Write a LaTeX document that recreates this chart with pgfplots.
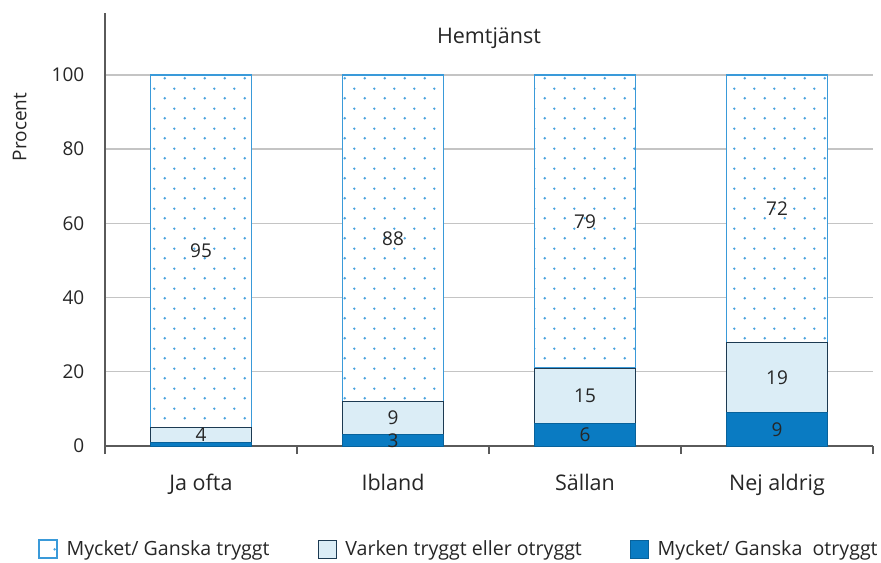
\documentclass[border=0pt]{standalone}
\usepackage{pgfplots}
\pgfplotsset{compat=1.18}
\usepackage{fontspec}
\setmainfont{Open Sans}
\usetikzlibrary{patterns.meta}
\definecolor{darkblue}{HTML}{0A7BC2}
\definecolor{lightfill}{HTML}{DBEDF6}
\definecolor{navy}{HTML}{1C3A52}
\definecolor{dotblue}{HTML}{4AA3DE}
\definecolor{edgeblue}{HTML}{3A9AD9}
\definecolor{gridgray}{HTML}{C4C4C4}
\definecolor{axisgray}{HTML}{5A5A5A}
\definecolor{txt}{HTML}{262626}
\pgfdeclarepattern{
  name=sparsedots,
  type=uncolored,
  bottom left={\pgfpoint{0bp}{0bp}},
  top right={\pgfpoint{20bp}{20bp}},
  tile size={\pgfpoint{20bp}{20bp}},
  code={
    \pgfpathcircle{\pgfpoint{5bp}{5bp}}{1.4bp}
    \pgfpathcircle{\pgfpoint{15bp}{15bp}}{1.4bp}
    \pgfusepath{fill}
  }
}
\pgfplotstableread{
x low mid high
0 1 4 95
1 3 9 88
2 6 15 79
3 9 19 72
}\datatable
\pgfplotstableread{
x y label
0 52.5 95
0 3 4
1 56 88
1 7.5 9
1 1.5 3
2 60.5 79
2 13.5 15
2 3 6
3 64 72
3 18.5 19
3 4.5 9
}\labeltable
\newcommand{\fs}{\fontsize{19bp}{22bp}\selectfont}
\newcommand{\fl}{\fontsize{19.6bp}{23bp}\selectfont}
\newcommand{\fx}{\fontsize{21.5bp}{25bp}\selectfont}
\pgfplotsset{
  base/.style={
    scale only axis,
    width=768bp, height=433bp,
    xmin=-0.5, xmax=3.5,
    ymin=0, ymax=116.7,
  }
}
\begin{document}
\begin{tikzpicture}
\fs
\begin{axis}[
  base,
  ybar stacked,
  bar width=101bp,
  axis x line=bottom,
  axis y line=left,
  axis line style={-, axisgray, line width=1.4bp},
  xtick={0,1,2,3},
  xticklabels={Ja ofta, Ibland, Sällan, Nej aldrig},
  major x tick style={draw=none},
  minor xtick={-0.5,0.5,1.5,2.5,3.5},
  minor x tick style={axisgray, line width=1.4bp},
  minor tick length=8bp,
  xtick align=outside,
  ytick={0,20,...,100},
  major y tick style={draw=none},
  ymajorgrids,
  grid style={gridgray, line width=1.4bp},
  yticklabel style={font=\fs, text=txt, xshift=-12bp},
  xticklabel style={font=\fx, text=txt, anchor=base, yshift=-40bp},
  ylabel={Procent},
  ylabel style={font=\fs, text=txt, at={(axis description cs:-0.111,0.737)}, anchor=center, rotate=0},
  /pgf/number format/assume math mode=true,
  legend style={
    at={(axis description cs:0.461,-0.238)}, anchor=center,
    draw=none, fill=none,
    font=\fl, text=txt,
    /tikz/every odd column/.append style={column sep=7bp},
    /tikz/every even column/.append style={column sep=46bp},
  },
  legend columns=3,
  reverse legend,
  legend image code/.code={\draw[#1] (0bp,-9bp) rectangle (18bp,9bp);},
]
\addplot[fill=darkblue, draw=darkblue!80!black, line width=0.8bp] table[x=x, y=low] {\datatable};
\addplot[fill=lightfill, draw=navy, line width=0.8bp] table[x=x, y=mid] {\datatable};
\addplot[fill=white, draw=edgeblue, line width=1.2bp, postaction={pattern={sparsedots}, pattern color=dotblue}] table[x=x, y=high] {\datatable};
\legend{Mycket/ Ganska~ otryggt, Varken tryggt eller otryggt, Mycket/ Ganska tryggt}
\node[text=txt, font=\fx] at (rel axis cs:0.5,0.942) {Hemtjänst};
\end{axis}
\begin{axis}[
  base,
  hide axis,
]
\addplot[only marks, mark=none, nodes near coords, point meta=explicit symbolic,
  every node near coord/.style={anchor=center, text=txt, font=\fs}]
  table[x=x, y=y, meta=label] {\labeltable};
\end{axis}
\pgfresetboundingbox
\path[use as bounding box] (current axis.south west) ++(-105bp,-117bp) rectangle ++(881bp,563bp);
\end{tikzpicture}
\end{document}
